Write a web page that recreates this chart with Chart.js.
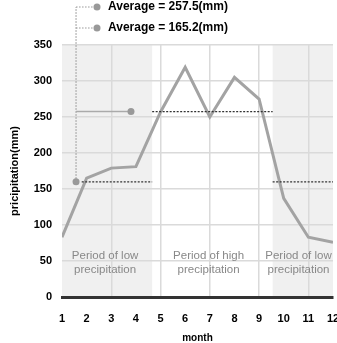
<!DOCTYPE html>
<html><head><meta charset="utf-8">
<script src="https://cdn.jsdelivr.net/npm/chart.js@4"></script>
<style>html,body{margin:0;padding:0;background:#fff}canvas{display:block}</style>
</head><body>
<canvas id="c" width="337" height="343"></canvas>
<script>
const months = [1,2,3,4,5,6,7,8,9,10,11,12];
const precipitation = [83,165,179,181,257,319,250,305,275,137,83,76];
const averageLabels = ["Average = 257.5(mm)", "Average = 165.2(mm)"];
const highAverage = 257.5;
const lowAverage = 160;
const highPeriod = [4.66, 9.55];
const lowPeriods = [[1, 4.66], [9.55, 12]];
const lowAvgSegments = [[1.8, 4.66], [9.55, 12]];
const periodTexts = [["Period of low","precipitation"],["Period of high","precipitation"],["Period of low","precipitation"]];
const periodCenters = [2.75, 6.95, 10.6];
const yTicks = [0,50,100,150,200,250,300,350];

const bgPlugin = {
  id:'bg',
  beforeDraw(chart){
    const {ctx, chartArea:a, scales:{x,y}} = chart;
    ctx.save();
    ctx.fillStyle='#f0f0f0';
    lowPeriods.forEach(p=>{
      const l=x.getPixelForValue(p[0]), r=x.getPixelForValue(p[1]);
      ctx.fillRect(l,a.top,r-l,a.bottom-a.top);
    });
    ctx.restore();
  },
  afterDatasetsDraw(chart){
    const {ctx, scales:{x,y}} = chart;
    ctx.save();
    ctx.fillStyle='#888';
    ctx.font='11.5px "Liberation Sans", Arial, sans-serif';
    ctx.textAlign='center'; ctx.textBaseline='middle';
    periodTexts.forEach((t,i)=>{
      const cx=x.getPixelForValue(periodCenters[i]);
      ctx.fillText(t[0],cx,y.getPixelForValue(57));
      ctx.fillText(t[1],cx,y.getPixelForValue(38));
    });
    const cx0=x.getPixelForValue(1.57);
    const lowY=y.getPixelForValue(lowAverage);
    const highY=y.getPixelForValue(highAverage);
    const legY=[7,28];
    ctx.strokeStyle='#999'; ctx.lineWidth=1.2;
    ctx.setLineDash([1.5,1.5]);
    ctx.beginPath(); ctx.moveTo(cx0,lowY); ctx.lineTo(cx0,legY[0]); ctx.stroke();
    legY.forEach(ly=>{ctx.beginPath(); ctx.moveTo(cx0,ly); ctx.lineTo(97,ly); ctx.stroke();});
    ctx.setLineDash([]);
    ctx.strokeStyle='#aaa'; ctx.lineWidth=1.5;
    const hx=x.getPixelForValue(3.8);
    ctx.beginPath(); ctx.moveTo(cx0,highY); ctx.lineTo(hx,highY); ctx.stroke();
    ctx.fillStyle='#999';
    [[cx0,lowY],[hx,highY],[97,legY[0]],[97,legY[1]]].forEach(p=>{
      ctx.beginPath(); ctx.arc(p[0],p[1],3.5,0,Math.PI*2); ctx.fill();
    });
    ctx.fillStyle='#000';
    ctx.font='bold 12px "Liberation Sans", Arial, sans-serif';
    ctx.textAlign='left';
    averageLabels.forEach((t,i)=>ctx.fillText(t,108,legY[i]));
    ctx.restore();
  }
};

const F='"Liberation Sans", Arial, sans-serif';
new Chart(document.getElementById('c'), {
  type:'line',
  data:{datasets:[
    {data:months.map((m,i)=>({x:m,y:precipitation[i]})), borderColor:'#a3a3a3', borderWidth:3, pointRadius:0, tension:0, order:2},
    {data:[{x:highPeriod[0],y:highAverage},{x:highPeriod[1],y:highAverage}], borderColor:'#333', borderWidth:1.3, borderDash:[2,1.5], pointRadius:0, order:1},
    {data:[{x:lowAvgSegments[0][0],y:lowAverage},{x:lowAvgSegments[0][1],y:lowAverage}], borderColor:'#333', borderWidth:1.3, borderDash:[2,1.5], pointRadius:0, order:1},
    {data:[{x:lowAvgSegments[1][0],y:lowAverage},{x:lowAvgSegments[1][1],y:lowAverage}], borderColor:'#333', borderWidth:1.3, borderDash:[2,1.5], pointRadius:0, order:1}
  ]},
  options:{
    responsive:false, animation:false,
    layout:{padding:{top:45,right:4,left:0,bottom:0}},
    plugins:{legend:{display:false}, tooltip:{enabled:false}},
    scales:{
      x:{type:'linear', min:1, max:12,
        afterFit(s){s.height=46; s.paddingLeft=0; s.paddingRight=0;},
        border:{color:'#333', width:3},
        grid:{color:c=>(c.tick && c.tick.value%2===1 && c.tick.value>1)?'#dadada':'rgba(0,0,0,0)', lineWidth:1.5, tickLength:2,
              tickColor:c=>(c.tick && c.tick.value%2===1 && c.tick.value>1)?'#555':'rgba(0,0,0,0)'},
        ticks:{stepSize:1, color:'#000', padding:13, font:{family:F, size:11, weight:'bold'}},
        title:{display:true, text:'month', color:'#000', padding:{top:0,bottom:-1}, font:{family:F, size:10, weight:'bold'}}
      },
      y:{min:0, max:350,
        afterFit(s){s.width=62;},
        afterBuildTicks(s){s.ticks=yTicks.map(v=>({value:v}));},
        border:{display:false},
        grid:{color:'#dadada', lineWidth:1.5, drawTicks:false},
        ticks:{color:'#000', padding:10, font:{family:F, size:11, weight:'bold'}},
        title:{display:true, text:'pricipitation(mm)', color:'#000', padding:{top:8,bottom:0}, font:{family:F, size:11, weight:'bold'}}
      }
    }
  },
  plugins:[bgPlugin]
});
</script>
</body></html>
